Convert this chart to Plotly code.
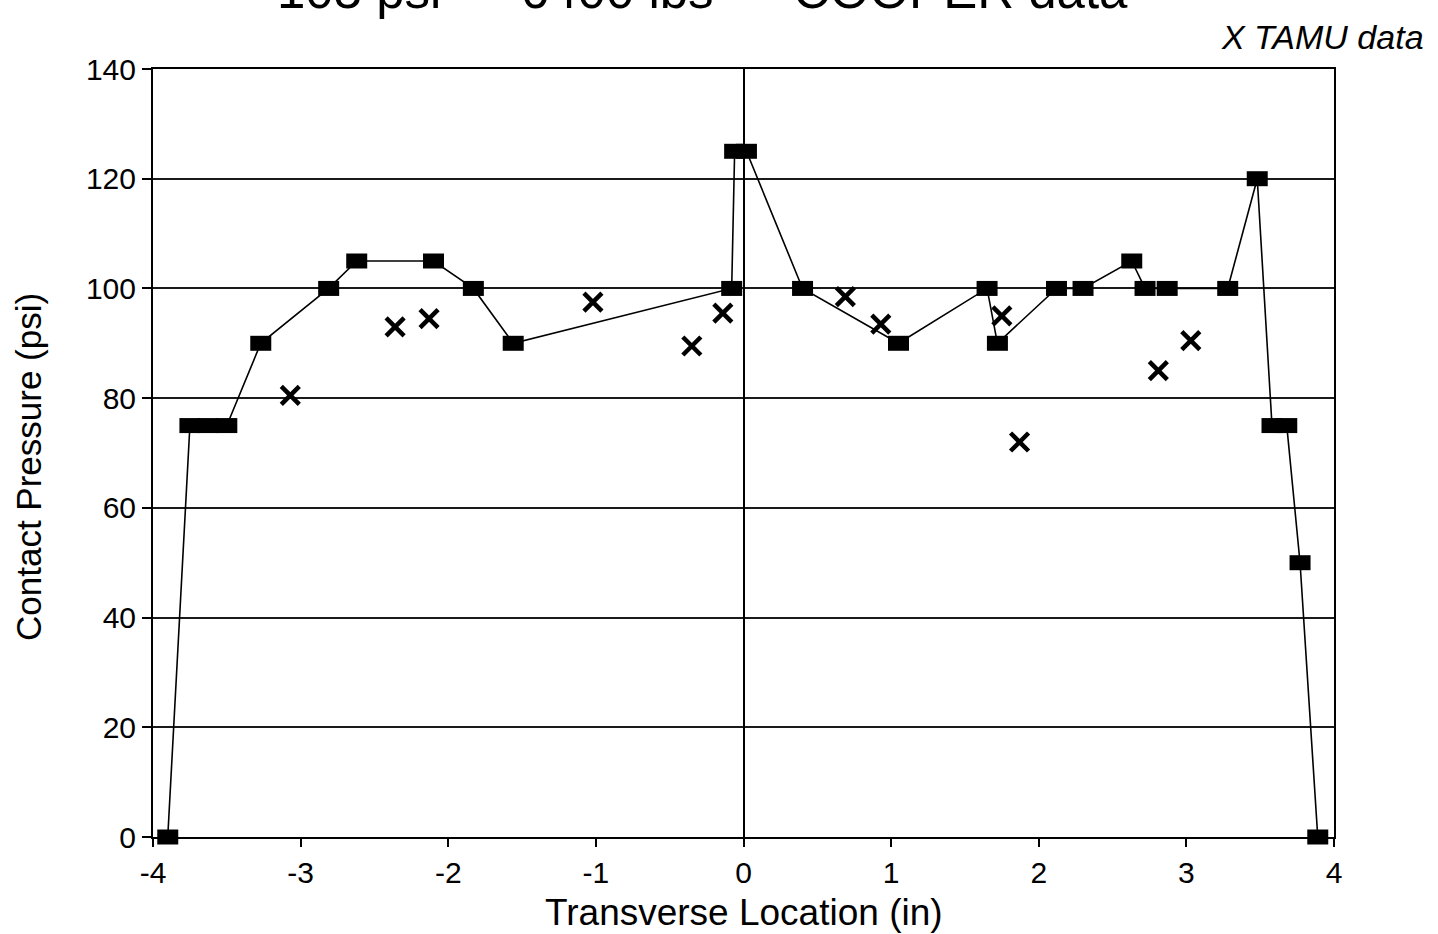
import plotly.graph_objects as go

# COOPER data (squares, connected)
cooper_x = [-3.90, -3.75, -3.63, -3.50, -3.27, -2.81, -2.62, -2.10, -1.83, -1.56,
            -0.08, -0.06, 0.02, 0.40, 1.05, 1.65, 1.72, 2.12, 2.30, 2.63,
            2.72, 2.87, 3.28, 3.48, 3.58, 3.68, 3.77, 3.89]
cooper_y = [0, 75, 75, 75, 90, 100, 105, 105, 100, 90,
            100, 125, 125, 100, 90, 100, 90, 100, 100, 105,
            100, 100, 100, 120, 75, 75, 50, 0]

# TAMU data (hand-marked X)
tamu_x = [-3.07, -2.36, -2.13, -1.02, -0.35, -0.14, 0.69, 0.93, 1.75, 1.87, 2.81, 3.03]
tamu_y = [80.5, 93, 94.5, 97.5, 89.5, 95.5, 98.5, 93.5, 95, 72, 85, 90.5]

x_ticks = [-4, -3, -2, -1, 0, 1, 2, 3, 4]
x_tick_labels = ["-4", "-3", "-2", "-1", "0", "1", "2", "3", "4"]
y_ticks = [0, 20, 40, 60, 80, 100, 120, 140]
y_tick_labels = ["0", "20", "40", "60", "80", "100", "120", "140"]

FONT = "Liberation Sans, Arial, Helvetica, sans-serif"

# plot area in page pixels
L, R, T, B = 153, 1334, 69, 837
PW, PH = R - L, B - T

fig = go.Figure()
fig.add_trace(go.Scatter(
    x=cooper_x, y=cooper_y, mode="lines+markers", name="COOPER data",
    line=dict(color="black", width=1.6),
    marker=dict(symbol="line-ew", size=15, color="black",
                line=dict(color="black", width=15)),
    cliponaxis=False,
))
fig.add_trace(go.Scatter(
    x=tamu_x, y=tamu_y, mode="markers", name="TAMU data",
    marker=dict(symbol="x-thin", size=18, color="black",
                line=dict(color="black", width=4.5)),
    cliponaxis=False,
))

fig.update_layout(
    width=1438, height=934,
    margin=dict(l=L, r=1438 - R, t=T, b=934 - B),
    paper_bgcolor="white", plot_bgcolor="white",
    showlegend=False,
    font=dict(family=FONT, color="black", size=30),
)
fig.update_xaxes(
    range=[-4, 4], tickmode="array", tickvals=x_ticks, ticktext=x_tick_labels,
    showgrid=False, zeroline=True, zerolinecolor="black", zerolinewidth=1.6,
    showline=True, mirror=True, linecolor="black", linewidth=2,
    ticks="outside", ticklen=8, tickwidth=1.5, tickcolor="black",
    tickfont=dict(size=30),
)
fig.update_yaxes(
    range=[0, 140], tickmode="array", tickvals=y_ticks, ticktext=y_tick_labels,
    showgrid=True, gridcolor="#1a1a1a", gridwidth=1.5, zeroline=False,
    showline=True, mirror=True, linecolor="black", linewidth=2,
    ticks="outside", ticklen=9, tickwidth=1.5, tickcolor="black",
    tickfont=dict(size=30),
)

# X axis title
fig.add_annotation(
    text="Transverse Location (in)", xref="paper", yref="paper",
    x=(744 - L) / PW, y=(B - 912) / PH, xanchor="center", yanchor="middle",
    showarrow=False, font=dict(size=37, family=FONT),
)
# Y axis title
fig.add_annotation(
    text="Contact Pressure (psi)", xref="paper", yref="paper",
    x=-(L - 28) / PW, y=(B - 467) / PH, xanchor="center", yanchor="middle",
    textangle=-90, showarrow=False, font=dict(size=35, family=FONT),
)
# Title (cut off at the top in the original)
fig.add_annotation(
    text="105 psi — 6400 lbs — COOPER data", xref="paper", yref="paper",
    x=(702 - L) / PW, y=1 + (T - 21) / PH, xanchor="center", yanchor="bottom",
    showarrow=False, font=dict(size=51, family=FONT),
)
# Handwritten legend note
fig.add_annotation(
    text="X TAMU data", xref="paper", yref="paper",
    x=(1322 - L) / PW, y=1 + (T - 37) / PH, xanchor="center", yanchor="middle",
    showarrow=False, font=dict(size=34, family=FONT, style="italic"),
)

fig.write_html("out.html", config={"displayModeBar": False},
               post_script="document.body.style.margin='0';")
